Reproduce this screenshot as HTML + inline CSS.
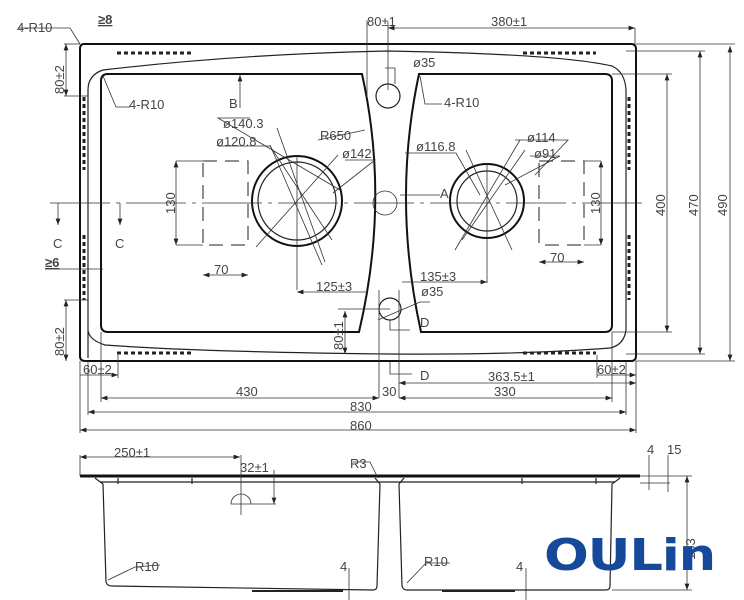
<!DOCTYPE html>
<html><head><meta charset="utf-8"><style>
html,body{margin:0;padding:0;background:#fff;width:744px;height:600px;overflow:hidden}
svg{display:block}
text{font-family:"Liberation Sans",sans-serif;fill:#444;font-size:13px}
.t{stroke:#111;stroke-width:2;fill:none}
.m{stroke:#222;stroke-width:1.2;fill:none}
.d{stroke:#333;stroke-width:0.8;fill:none}
.dash{stroke:#222;stroke-width:1;fill:none;stroke-dasharray:14 8}
</style></head><body>
<svg width="744" height="600" viewBox="0 0 744 600" xmlns="http://www.w3.org/2000/svg">
<defs><marker id="a" markerWidth="8" markerHeight="6" refX="8" refY="3" orient="auto-start-reverse"><path d="M0,0 L8,3 L0,6" fill="#222"/></marker></defs>
<!-- outer frame -->
<path class="t" d="M84,44 H631 Q636,44 636,49 V356 Q636,361 631,361 H85 Q80,361 80,356 V49 Q80,44 84,44 Z"/>
<path class="m" d="M88,358 V90 Q88,75 103,70 Q240,54 388,51 Q560,54 612,66 Q625,72 626,90 V330 Q624,345 610,348 Q520,355 390,354 Q200,352 105,345 Q89,340 88,330"/>
<!-- bowls -->
<path class="t" d="M362,74 H108 Q101,74 101,81 V325 Q101,332 108,332 H359 Q390,200 362,74 Z"/>
<path class="t" d="M419,74 H605 Q612,74 612,81 V325 Q612,332 605,332 H421 Q392,200 419,74 Z"/>
<!-- drainage dashes -->
<g stroke="#222" stroke-width="3" stroke-dasharray="4 3">
<line x1="117" y1="53" x2="193" y2="53"/><line x1="523" y1="53" x2="596" y2="53"/>
<line x1="117" y1="353" x2="193" y2="353"/><line x1="523" y1="353" x2="596" y2="353"/>
<line x1="84" y1="97" x2="84" y2="170"/><line x1="84" y1="235" x2="84" y2="300"/>
<line x1="629" y1="97" x2="629" y2="170"/><line x1="629" y1="235" x2="629" y2="300"/>
</g>
<!-- circles -->
<circle class="t" cx="297" cy="201" r="45"/><circle class="m" cx="297" cy="201" r="39"/>
<circle class="t" cx="487" cy="201" r="37"/><circle class="m" cx="487" cy="201" r="30"/>
<circle class="m" cx="388" cy="96" r="12"/><circle class="m" cx="390" cy="309" r="11"/>
<circle class="d" cx="385" cy="203" r="12"/>
<!-- center lines -->
<line class="d" x1="50" y1="203" x2="645" y2="203" stroke-dasharray="60 6 4 6"/>
<line class="d" x1="297" y1="155" x2="297" y2="290"/>
<line class="d" x1="487" y1="163" x2="487" y2="283"/>
<line class="d" x1="256" y1="247" x2="338" y2="155"/><line class="d" x1="277" y1="128" x2="325" y2="262"/><line class="d" x1="270" y1="145" x2="322" y2="265"/>
<line class="d" x1="455" y1="250" x2="520" y2="140"/><line class="d" x1="466" y1="150" x2="512" y2="250"/><line class="d" x1="462" y1="240" x2="525" y2="150"/>
<!-- dashed rects -->
<rect class="dash" x="203" y="161" width="45" height="84"/><rect class="dash" x="539" y="161" width="45" height="84"/>
<g class="d">
<line x1="176" y1="161" x2="203" y2="161"/><line x1="176" y1="245" x2="203" y2="245"/>
<line x1="176" y1="161" x2="176" y2="245" marker-start="url(#a)" marker-end="url(#a)"/>
<line x1="203" y1="275" x2="248" y2="275" marker-start="url(#a)" marker-end="url(#a)"/>
<line x1="584" y1="161" x2="601" y2="161"/><line x1="584" y1="245" x2="601" y2="245"/>
<line x1="601" y1="161" x2="601" y2="245" marker-start="url(#a)" marker-end="url(#a)"/>
<line x1="539" y1="262" x2="584" y2="262" marker-start="url(#a)" marker-end="url(#a)"/>
<line x1="297" y1="292" x2="368" y2="292" marker-start="url(#a)"/>
<line x1="487" y1="282" x2="402" y2="282" marker-start="url(#a)"/>
<!-- top dims -->
<line x1="367" y1="20" x2="367" y2="98"/><line x1="388" y1="28" x2="635" y2="28" marker-start="url(#a)" marker-end="url(#a)"/>
<line x1="388" y1="22" x2="388" y2="90"/><line x1="635" y1="28" x2="635" y2="44"/>
<line x1="240" y1="75" x2="240" y2="108" marker-start="url(#a)"/>
<!-- right dims -->
<line x1="612" y1="74" x2="672" y2="74"/><line x1="612" y1="332" x2="672" y2="332"/>
<line x1="667" y1="74" x2="667" y2="332" marker-start="url(#a)" marker-end="url(#a)"/>
<line x1="626" y1="51" x2="705" y2="51"/><line x1="626" y1="354" x2="705" y2="354"/>
<line x1="700" y1="51" x2="700" y2="354" marker-start="url(#a)" marker-end="url(#a)"/>
<line x1="636" y1="44" x2="735" y2="44"/><line x1="636" y1="361" x2="735" y2="361"/>
<line x1="730" y1="46" x2="730" y2="361" marker-start="url(#a)" marker-end="url(#a)"/>
<!-- left dims -->
<line x1="64" y1="44" x2="80" y2="44"/><line x1="64" y1="96" x2="88" y2="96"/><line x1="66" y1="44" x2="66" y2="96" marker-start="url(#a)" marker-end="url(#a)"/>
<line x1="64" y1="300" x2="88" y2="300"/><line x1="66" y1="300" x2="66" y2="361" marker-start="url(#a)" marker-end="url(#a)"/>
<line x1="58" y1="203" x2="58" y2="225" marker-end="url(#a)"/><line x1="120" y1="203" x2="120" y2="225" marker-end="url(#a)"/>
<line x1="45" y1="269" x2="103" y2="269"/>
<line x1="345" y1="311" x2="345" y2="354" marker-start="url(#a)" marker-end="url(#a)"/>
<line x1="338" y1="309" x2="390" y2="309"/>
<!-- D section -->
<line x1="379" y1="290" x2="379" y2="398"/><line x1="399" y1="290" x2="399" y2="398"/>
<polyline points="390,320 390,330 410,330"/><polyline points="390,362 390,374 412,374"/>
<!-- bottom dims -->
<line x1="80" y1="361" x2="80" y2="433"/><line x1="88" y1="361" x2="88" y2="415"/><line x1="101" y1="332" x2="101" y2="402"/><line x1="612" y1="332" x2="612" y2="402"/><line x1="626" y1="361" x2="626" y2="415"/>
<line x1="636" y1="361" x2="636" y2="433"/>
<line x1="80" y1="375" x2="118" y2="375" marker-end="url(#a)"/><line x1="118" y1="355" x2="118" y2="378"/>
<line x1="597" y1="355" x2="597" y2="378"/><line x1="597" y1="375" x2="636" y2="375" marker-end="url(#a)"/>
<line x1="399" y1="383" x2="636" y2="383" marker-start="url(#a)" marker-end="url(#a)"/>
<line x1="101" y1="398" x2="379" y2="398" marker-start="url(#a)" marker-end="url(#a)"/>
<line x1="399" y1="398" x2="612" y2="398" marker-start="url(#a)" marker-end="url(#a)"/>
<line x1="88" y1="412" x2="626" y2="412" marker-start="url(#a)" marker-end="url(#a)"/>
<line x1="80" y1="430" x2="636" y2="430" marker-start="url(#a)" marker-end="url(#a)"/>
<!-- leaders -->
<polyline points="18,28 70,28 80,44"/><polyline points="130,107 116,107 103,76"/>
<polyline points="250,118 218,118 340,190"/><polyline points="218,146 270,146 332,240"/>
<polyline points="318,140 365,130"/><polyline points="345,160 375,160 333,193"/>
<polyline points="385,68 395,68 395,84"/><polyline points="442,104 425,104 420,76"/>
<polyline points="405,153 456,153 480,195"/><polyline points="515,140 568,140 535,175"/><polyline points="530,156 560,156 505,185"/>
<polyline points="400,195 440,195"/>
<polyline points="430,302 420,302 378,320"/>
</g>
<!-- labels -->
<text x="17" y="32">4-R10</text><text x="98" y="24" style="font-weight:bold;text-decoration:underline">≥8</text>
<text x="129" y="109">4-R10</text><text x="229" y="108" font-family="Liberation Serif">B</text>
<text x="223" y="128">ø140.3</text><text x="216" y="146">ø120.8</text><text x="320" y="140">R650</text><text x="342" y="158">ø142</text>
<text x="367" y="26">80±1</text><text x="491" y="26">380±1</text><text x="413" y="67">ø35</text><text x="444" y="107">4-R10</text>
<text x="416" y="151">ø116.8</text><text x="527" y="142">ø114</text><text x="534" y="158">ø91</text>
<text x="440" y="198" font-family="Liberation Serif" font-size="11">A</text>
<text x="53" y="248" font-family="Liberation Serif">C</text><text x="115" y="248" font-family="Liberation Serif">C</text>
<text x="45" y="267" style="font-weight:bold;text-decoration:underline">≥6</text>
<text x="214" y="274">70</text><text x="550" y="262">70</text>
<text x="316" y="291">125±3</text><text x="420" y="281">135±3</text><text x="421" y="296">ø35</text>
<text x="420" y="327" font-family="Liberation Serif">D</text><text x="420" y="380" font-family="Liberation Serif">D</text>
<text x="83" y="374">60±2</text><text x="597" y="374">60±2</text><text x="488" y="381">363.5±1</text>
<text x="236" y="396">430</text><text x="382" y="396">30</text><text x="494" y="396">330</text>
<text x="350" y="411">830</text><text x="350" y="430">860</text>
<g>
<text transform="translate(64,94) rotate(-90)">80±2</text><text transform="translate(64,356) rotate(-90)">80±2</text>
<text transform="translate(343,350) rotate(-90)">80±1</text>
<text transform="translate(175,214) rotate(-90)">130</text><text transform="translate(600,214) rotate(-90)">130</text>
<text transform="translate(665,216) rotate(-90)">400</text><text transform="translate(698,216) rotate(-90)">470</text><text transform="translate(727,216) rotate(-90)">490</text>
</g>
<!-- side section -->
<path stroke="#111" stroke-width="3" d="M80,476 H640"/>
<g class="m">
<line x1="100" y1="482" x2="615" y2="482"/>
<path d="M95,478 L103,484 L106,582 Q107,586 112,586 L373,590 Q377,590 377,586 L380,484 L375,478"/>
<path d="M404,478 L399,484 L402,586 Q403,590 407,590 L606,590 Q610,590 610,586 L612,484 L620,478"/>
<line x1="118" y1="478" x2="118" y2="484"/><line x1="192" y1="478" x2="192" y2="484"/>
<line x1="522" y1="478" x2="522" y2="484"/><line x1="596" y1="478" x2="596" y2="484"/>
<line x1="252" y1="591" x2="343" y2="591" stroke-width="2"/><line x1="442" y1="591" x2="515" y2="591" stroke-width="2"/>
</g>
<g class="d">
<line x1="80" y1="457" x2="240" y2="457" marker-start="url(#a)" marker-end="url(#a)"/><line x1="80" y1="455" x2="80" y2="476"/>
<line x1="241" y1="455" x2="241" y2="515"/><path d="M231,504 A10,10 0 0,1 251,504 Z"/>
<line x1="274" y1="470" x2="274" y2="504" marker-end="url(#a)"/><line x1="251" y1="504" x2="276" y2="504"/>
<polyline points="353,462 370,462 378,478"/>
<polyline points="160,565 135,567 108,580"/><polyline points="450,563 426,563 407,583"/>
<line x1="349" y1="568" x2="349" y2="600"/><line x1="526" y1="568" x2="526" y2="600"/>
<line x1="649" y1="455" x2="649" y2="490"/><line x1="668" y1="455" x2="668" y2="492"/>
<line x1="640" y1="483" x2="670" y2="483"/><line x1="640" y1="476" x2="692" y2="476"/><line x1="612" y1="590" x2="692" y2="590"/>
<line x1="687" y1="476" x2="687" y2="590" marker-start="url(#a)" marker-end="url(#a)"/>
</g>
<text x="114" y="457">250±1</text><text x="240" y="472">32±1</text><text x="350" y="468">R3</text>
<text x="135" y="571">R10</text><text x="424" y="566">R10</text><text x="340" y="571">4</text><text x="516" y="571">4</text>
<text x="647" y="454">4</text><text x="667" y="454">15</text>
<text transform="translate(695,560) rotate(-90)">183</text>
<text x="544" y="570" style="font-family:'DejaVu Sans','Liberation Sans',sans-serif;font-weight:bold;font-size:44px;fill:#17499a;letter-spacing:-1px" textLength="171" lengthAdjust="spacingAndGlyphs">OULin</text>
</svg>
</body></html>
